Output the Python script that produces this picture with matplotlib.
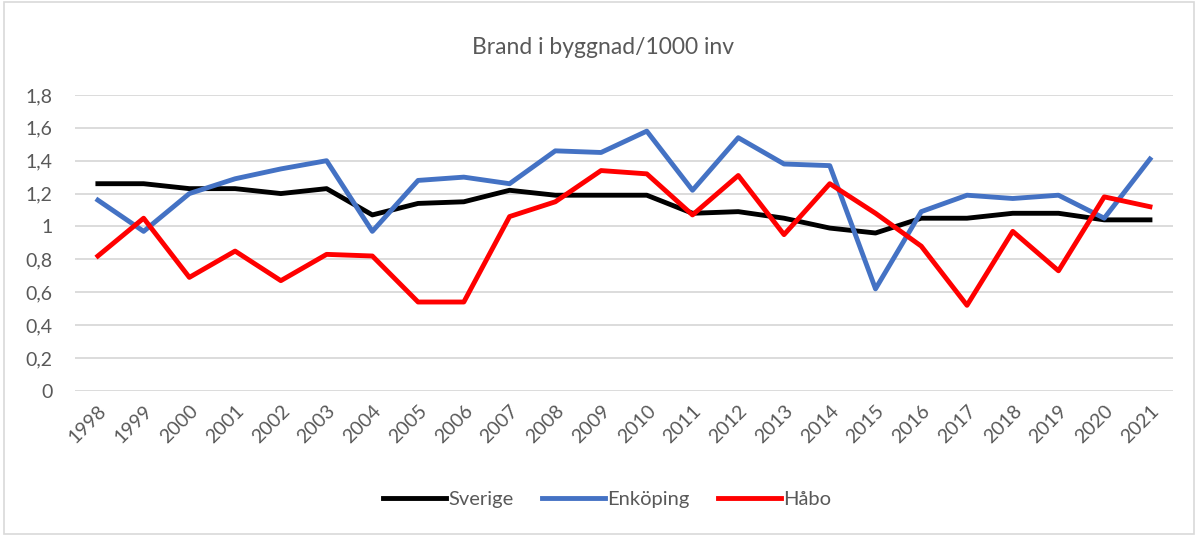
import matplotlib
matplotlib.use('Agg')
import matplotlib.pyplot as plt
from matplotlib.patches import Rectangle

# Data
years = [str(y) for y in range(1998, 2022)]
sverige = [1.26, 1.26, 1.23, 1.23, 1.20, 1.23, 1.07, 1.14, 1.15, 1.22, 1.19, 1.19,
           1.19, 1.08, 1.09, 1.05, 0.99, 0.96, 1.05, 1.05, 1.08, 1.08, 1.04, 1.04]
enkoping = [1.16, 0.97, 1.20, 1.29, 1.35, 1.40, 0.97, 1.28, 1.30, 1.26, 1.46, 1.45,
            1.58, 1.22, 1.54, 1.38, 1.37, 0.62, 1.09, 1.19, 1.17, 1.19, 1.05, 1.41]
habo = [0.82, 1.05, 0.69, 0.85, 0.67, 0.83, 0.82, 0.54, 0.54, 1.06, 1.15, 1.34,
        1.32, 1.07, 1.31, 0.95, 1.26, 1.08, 0.88, 0.52, 0.97, 0.73, 1.18, 1.12]
yticks = [0, 0.2, 0.4, 0.6, 0.8, 1.0, 1.2, 1.4, 1.6, 1.8]
ytick_labels = ['0', '0,2', '0,4', '0,6', '0,8', '1', '1,2', '1,4', '1,6', '1,8']

plt.rcParams['font.family'] = ['Lato', 'DejaVu Sans']

fig = plt.figure(figsize=(11.98, 5.36), dpi=100)
fig.patch.set_facecolor('white')
ax = fig.add_axes([0.0626, 0.271, 0.9164, 0.5518])

x = range(len(years))
ax.plot(x, sverige, color='black', lw=3.5, label='Sverige')
ax.plot(x, enkoping, color='#4472C4', lw=3.5, label='Enköping')
ax.plot(x, habo, color='#FF0000', lw=3.5, label='Håbo')

ax.set_xlim(-0.5, len(years) - 0.5)
ax.set_ylim(0, 1.8)
ax.set_yticks(yticks)
ax.set_yticklabels(ytick_labels)
ax.set_xticks(list(x))
ax.set_xticklabels(years, rotation=45, ha='right', rotation_mode='anchor')

ax.grid(axis='y', color='#D9D9D9', lw=1.3)
ax.set_axisbelow(True)
for s in ax.spines.values():
    s.set_visible(False)
ax.tick_params(length=0, colors='#595959', labelsize=14)
ax.tick_params(axis='y', pad=16)
ax.tick_params(axis='x', pad=8)

fig.text(0.503, 0.912, 'Brand i byggnad/1000 inv', ha='center', va='center',
         fontsize=16.5, color='#595959')

leg = fig.legend(loc='center', bbox_to_anchor=(0.507, 0.069), ncol=3, frameon=False,
                 fontsize=14.5, handlelength=3.1, handletextpad=0.15, columnspacing=1.4)
for t in leg.get_texts():
    t.set_color('#595959')

# light chart-area border
fig.patches.append(Rectangle((0.003, 0.003), 0.994, 0.994, transform=fig.transFigure,
                             fill=False, edgecolor='#D9D9D9', lw=1.2))

fig.savefig('out.png', dpi=100, facecolor='white')
